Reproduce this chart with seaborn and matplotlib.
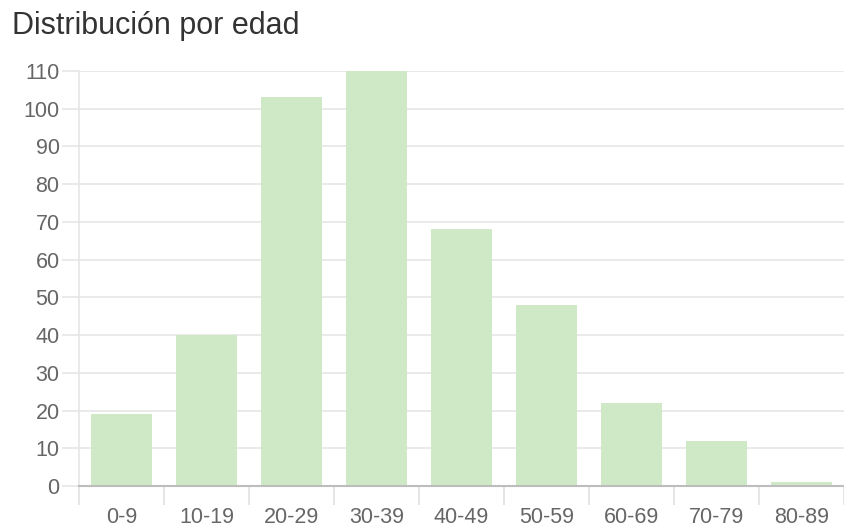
import numpy as np
import pandas as pd
import matplotlib
matplotlib.use("Agg")
import matplotlib.pyplot as plt
import seaborn as sns

age_groups = ["0-9", "10-19", "20-29", "30-39", "40-49", "50-59", "60-69", "70-79", "80-89"]
counts = [19, 40, 103, 110, 68, 48, 22, 12, 1]
y_ticks = list(range(0, 111, 10))

df = pd.DataFrame({"edad": age_groups, "personas": counts})

sns.set_theme(style="white")
plt.rcParams["font.family"] = ["Liberation Sans", "DejaVu Sans"]

fig = plt.figure(figsize=(8.44, 5.29), dpi=100)
ax = fig.add_axes([79 / 844, (529 - 486) / 529, 1 - 79 / 844, (486 - 71) / 529])

sns.barplot(data=df, x="edad", y="personas", color="#cfe9c7", saturation=1,
            width=0.72, linewidth=0, ax=ax, zorder=3)

ax.set_ylim(0, 110)
ax.set_xlim(-0.5, len(age_groups) - 0.5)
ax.set_yticks(y_ticks)
ax.set_xlabel("")
ax.set_ylabel("")

# horizontal grid that also runs left past the axis as tick marks
ax.yaxis.grid(True, color="#e6e6e6", linewidth=1.2, zorder=0)
ax.tick_params(axis="y", length=12.5, width=1.2, color="#e6e6e6", pad=1.5,
               labelsize=15.5, labelcolor="#666666", left=True)

# category boundary ticks below the baseline
ax.set_xticks(np.arange(-0.5, len(age_groups), 1.0), minor=True)
ax.tick_params(axis="x", which="minor", length=14, width=1.2, color="#e0e0e0", bottom=True)
ax.tick_params(axis="x", which="major", length=0, pad=15, labelsize=15.5, labelcolor="#666666")

for side in ["top", "right"]:
    ax.spines[side].set_visible(False)
ax.spines["left"].set_color("#e6e6e6")
ax.spines["left"].set_linewidth(1.2)
ax.spines["bottom"].set_color("#bdbdbd")
ax.spines["bottom"].set_linewidth(1.5)
ax.spines["bottom"].set_zorder(4)

fig.text(12 / 844, 1 - 26 / 529, "Distribución por edad", fontsize=22,
         color="#333333", ha="left", va="center")

fig.savefig("out.png", dpi=100)
